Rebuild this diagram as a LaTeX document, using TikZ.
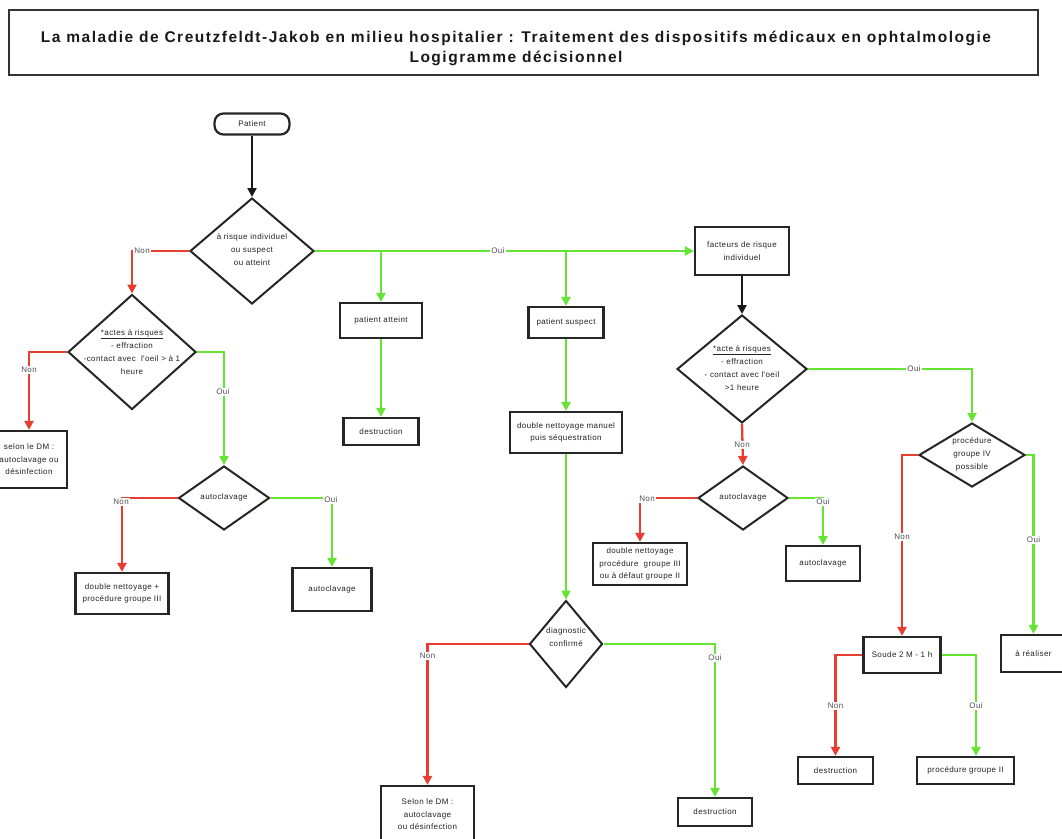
\documentclass[tikz,border=0pt]{standalone}
\usepackage{fontspec}
\setmainfont{Liberation Sans}
\newfontfamily\smallfont[LetterSpace=5]{Liberation Sans}
\newfontfamily\titlefont[LetterSpace=9.8]{Liberation Sans Bold}
\usetikzlibrary{arrows.meta,shapes.geometric,calc}
\definecolor{ogreen}{RGB}{102,228,51}
\definecolor{ored}{RGB}{232,62,50}
\definecolor{txtgray}{RGB}{35,35,35}
\definecolor{lblgray}{RGB}{80,80,80}
\tikzset{
  box/.style={draw=black!85, line width=2.2pt, fill=white, inner sep=0pt,
    font=\smallfont\fontsize{8}{12.5}\selectfont, text=txtgray, align=center},
  dia/.style={diamond, draw=black!85, line width=2pt, fill=white, inner sep=0pt},
  dtext/.style={inner sep=0pt, font=\smallfont\fontsize{8}{13}\selectfont, text=txtgray, align=center},
  tip/.style={-{Triangle[length=9pt,width=9pt]}},
  yes/.style={draw=ogreen, line width=2.3pt, tip},
  no/.style={draw=ored, line width=2.3pt, tip},
  blk/.style={draw=black!90, line width=2.3pt, tip},
  lbl/.style={fill=white, inner sep=1.2pt, font=\smallfont\fontsize{8}{10}\selectfont, text=lblgray},
}
\begin{document}
\begin{tikzpicture}[x=1pt,y=-1pt]
\useasboundingbox[fill=white] (0,0) rectangle (1062,838);

% title
\node[draw=black!80, line width=2pt, minimum width=1029pt, minimum height=65pt, inner sep=0pt] (titlebox) at (523,42.5) {};
\node[inner sep=0pt, align=center, text=black!90, font=\titlefont\fontsize{15.5}{20}\selectfont] (titletext) at (516,48)
  {La maladie de Creutzfeldt-Jakob en milieu hospitalier : Traitement des dispositifs médicaux en ophtalmologie\\Logigramme décisionnel};

% nodes
\node[box, rounded corners=9pt, minimum width=75pt, minimum height=21pt] (patient) at (252,124) {Patient};

\node[dia, minimum width=124pt, minimum height=106pt] (d1) at (252,251) {};
\node[dtext] (d1t) at (252,250) {à risque individuel\\ou suspect\\ou atteint};

\node[dia, minimum width=128pt, minimum height=115pt] (d2) at (132,352) {};
\node[dtext] (d2t) at (132,352) {\underline{*actes à risques}\\- effraction\\-contact avec\ \ l'oeil > à 1\\heure};

\node[box, minimum width=76pt, minimum height=57pt] (selonL) at (29,459.5) {selon le DM :\\autoclavage ou\\désinfection};

\node[dia, minimum width=91pt, minimum height=64pt] (d5) at (224,498) {};
\node[dtext] (d5t) at (224,497) {autoclavage};

\node[box, minimum width=93pt, minimum height=41pt] (dnplus) at (122,593.5) {double nettoyage +\\procédure groupe III};
\node[box, minimum width=79pt, minimum height=43pt] (auto1) at (332,589.5) {autoclavage};

\node[box, minimum width=82pt, minimum height=35pt] (atteint) at (381,320.5) {patient atteint};
\node[box, minimum width=75pt, minimum height=27pt] (destr1) at (381,431.5) {destruction};

\node[box, minimum width=75pt, minimum height=31pt] (suspect) at (566,322.5) {patient suspect};
\node[box, minimum width=112pt, minimum height=41pt] (dnm) at (566,432.5) {double nettoyage manuel\\puis séquestration};

\node[dia, minimum width=73pt, minimum height=87pt] (d6) at (566,644) {};
\node[dtext] (d6t) at (566,637) {diagnostic\\confirmé};

\node[box, minimum width=93pt, minimum height=57pt] (selonB) at (427.5,814.5) {Selon le DM :\\autoclavage\\ou désinfection};
\node[box, minimum width=74pt, minimum height=28pt] (destr2) at (715,812) {destruction};

\node[box, minimum width=94pt, minimum height=48pt] (facteurs) at (742,251) {facteurs de risque\\individuel};

\node[dia, minimum width=130pt, minimum height=108pt] (d3) at (742,369) {};
\node[dtext] (d3t) at (742,368) {\underline{*acte à risques}\\- effraction\\- contact avec l'oeil\\>1 heure};

\node[dia, minimum width=90pt, minimum height=64pt] (d7) at (743,498) {};
\node[dtext] (d7t) at (743,497) {autoclavage};

\node[box, minimum width=94pt, minimum height=42pt] (dnp) at (640,564) {double nettoyage\\procédure\ \ groupe III\\ou à défaut groupe II};
\node[box, minimum width=74pt, minimum height=35pt] (auto2) at (823,563.5) {autoclavage};

\node[dia, minimum width=106pt, minimum height=64pt] (d8) at (972,455) {};
\node[dtext] (d8t) at (972,454) {procédure\\groupe IV\\possible};

\node[box, minimum width=77pt, minimum height=36pt] (soude) at (902,655) {Soude 2 M - 1 h};
\node[box, minimum width=65pt, minimum height=37pt] (realiser) at (1033.5,653.5) {à réaliser};
\node[box, minimum width=75pt, minimum height=27pt] (destr3) at (835.5,770.5) {destruction};
\node[box, minimum width=97pt, minimum height=27pt] (pg2) at (965.5,770.5) {procédure groupe II};

% junctions
\coordinate (jA) at (atteint.north |- d1.east);
\coordinate (jS) at (suspect.north |- d1.east);
\coordinate (pg2in) at ($(pg2.north)+(10.5,0)$);

% connectors
\draw[blk] (patient.south) -- (d1.north);
\draw[no] (d1.west) -| (d2.north);
\draw[yes] (d1.east) -- (facteurs.west);
\draw[yes] (jA) -- (atteint.north);
\draw[yes] (jS) -- (suspect.north);
\draw[yes] (atteint.south) -- (destr1.north);
\draw[yes] (suspect.south) -- (dnm.north);
\draw[yes] (dnm.south) -- (d6.north);
\draw[no] (d6.west) -| (selonB.north);
\draw[yes] (d6.east) -| (destr2.north);
\draw[no] (d2.west) -| (selonL.north);
\draw[yes] (d2.east) -| (d5.north);
\draw[no] (d5.west) -| (dnplus.north);
\draw[yes] (d5.east) -| (auto1.north);
\draw[blk] (facteurs.south) -- (d3.north);
\draw[yes] (d3.east) -| (d8.north);
\draw[no] (d3.south) -- (d7.north);
\draw[no] (d7.west) -| (dnp.north);
\draw[yes] (d7.east) -| (auto2.north);
\draw[no] (d8.west) -| (soude.north);
\draw[yes] (d8.east) -| (realiser.north);
\draw[no] (soude.west) -| (destr3.north);
\draw[yes] (soude.east) -| (pg2in);

% labels
\node[lbl] (l1) at (142,251) {Non};
\node[lbl] (l2) at (498,251) {Oui};
\node[lbl] (l3) at (29,370) {Non};
\node[lbl] (l4) at (223,392) {Oui};
\node[lbl] (l5) at (121,502) {Non};
\node[lbl] (l6) at (331,500) {Oui};
\node[lbl] (l7) at (427.5,656) {Non};
\node[lbl] (l8) at (715,658) {Oui};
\node[lbl] (l9) at (914,369) {Oui};
\node[lbl] (l10) at (742,445) {Non};
\node[lbl] (l11) at (647,499) {Non};
\node[lbl] (l12) at (823,502) {Oui};
\node[lbl] (l13) at (902,537) {Non};
\node[lbl] (l14) at (1033.5,540) {Oui};
\node[lbl] (l15) at (835.5,706) {Non};
\node[lbl] (l16) at (976,706) {Oui};
\end{tikzpicture}
\end{document}
